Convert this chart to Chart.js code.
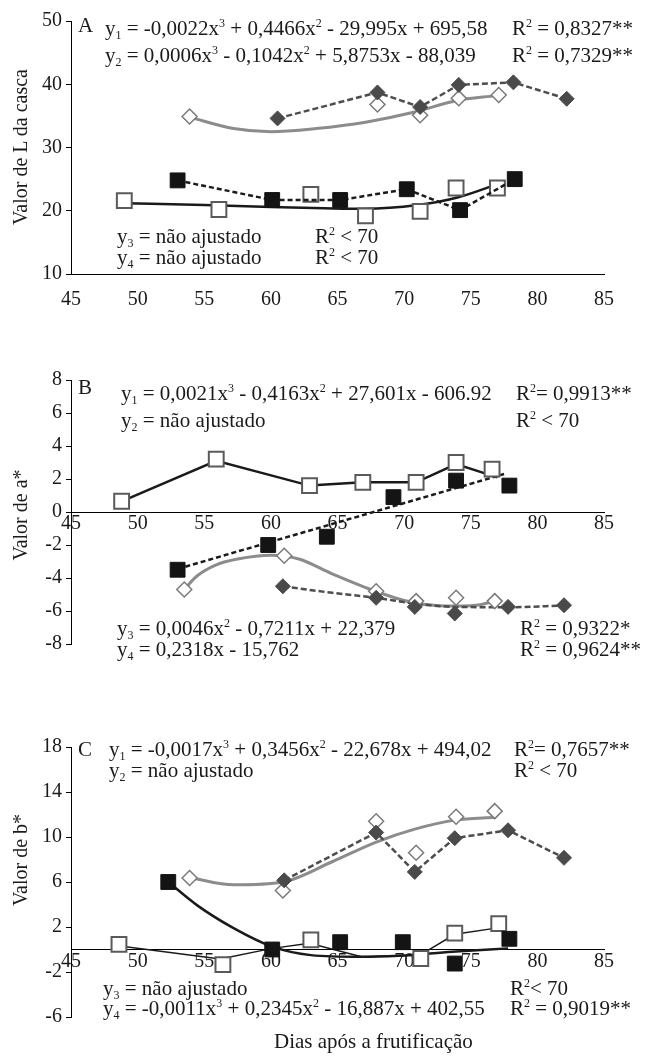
<!DOCTYPE html>
<html>
<head>
<meta charset="utf-8">
<script src="https://cdn.jsdelivr.net/npm/chart.js@4.4.1/dist/chart.umd.min.js"></script>
<style>
  body { margin: 0; background: #fff; }
  #wrap { position: relative; width: 649px; height: 1060px; font-family: "Liberation Serif", serif; color: #1a1a1a; }
  canvas { position: absolute; left: 0; }
  .t { position: absolute; font-size: 21px; line-height: 21px; white-space: nowrap; }
  .t sub, .t sup { font-size: 12px; line-height: 0; }
  .t sub { vertical-align: -4px; }
  .t sup { vertical-align: 8px; }
  .ytitle { position: absolute; font-size: 20px; line-height: 20px; white-space: nowrap; transform: translate(-50%, -50%) rotate(-90deg); }
</style>
</head>
<body>
<div id="wrap">
  <canvas id="chartA" width="649" height="320" style="top:0px"></canvas>
  <canvas id="chartB" width="649" height="340" style="top:320px"></canvas>
  <canvas id="chartC" width="649" height="400" style="top:660px"></canvas>
</div>
<script>
"use strict";

// eixo x comum (dias após a frutificação)
const xMin = 45;
const xMax = 85;
const xStep = 5;

// A - Valor de L da casca
const aOpenDiamondX = [53.9, 68.0, 71.2, 74.1, 77.1];
const aOpenDiamondY = [34.9, 36.8, 35.1, 37.8, 38.3];
const aFullDiamondX = [60.5, 68.0, 71.2, 74.1, 78.2, 82.2];
const aFullDiamondY = [34.6, 38.7, 36.4, 39.9, 40.3, 37.7];
const aOpenSquareX = [49.0, 56.1, 63.0, 67.1, 71.2, 73.9, 77.0];
const aOpenSquareY = [21.6, 20.2, 22.6, 19.2, 19.9, 23.6, 23.6];
const aFullSquareX = [53.0, 60.1, 65.2, 70.2, 74.2, 78.3];
const aFullSquareY = [24.8, 21.7, 21.7, 23.4, 20.1, 25.0];
const aGrayCurveX = [53.9, 57.2, 60.0, 63.4, 67.1, 70.8, 73.9, 76.9];
const aGrayCurveY = [34.8, 33.0, 32.5, 33.0, 34.0, 35.6, 37.4, 38.2];
const aBlackCurveX = [49, 55, 60, 64, 67, 71, 74, 77];
const aBlackCurveY = [21.2, 20.9, 20.6, 20.4, 20.3, 20.9, 22.1, 24.2];

// B - Valor de a*
const bOpenSquareX = [48.8, 55.9, 62.9, 66.9, 70.9, 73.9, 76.6];
const bOpenSquareY = [0.65, 3.2, 1.6, 1.8, 1.8, 3.0, 2.6];
const bOpenLineX = [48.8, 55.9, 62.9, 66.9, 70.9, 73.9, 77.0];
const bOpenLineY = [0.65, 3.1, 1.6, 1.8, 1.8, 2.9, 2.1];
const bFullSquareX = [53.0, 59.8, 64.2, 69.2, 73.9, 77.9];
const bFullSquareY = [-3.5, -2.0, -1.5, 0.9, 1.9, 1.6];
const bFitLineX = [53.0, 77.5];
const bFitLineY = [-3.45, 2.3];
const bOpenDiamondX = [53.5, 61.0, 67.9, 70.9, 73.9, 76.8];
const bOpenDiamondY = [-4.7, -2.65, -4.8, -5.4, -5.2, -5.4];
const bGrayCurveX = [53.5, 54.5, 55.9, 57.5, 60.0, 62.1, 64.6, 67.9, 70.8, 73.9, 75.8, 76.9];
const bGrayCurveY = [-4.68, -3.85, -3.2, -2.85, -2.62, -2.85, -3.75, -4.82, -5.51, -5.7, -5.6, -5.37];
const bFullDiamondX = [60.9, 67.9, 70.8, 73.8, 77.8, 82.0];
const bFullDiamondY = [-4.5, -5.2, -5.75, -6.15, -5.75, -5.65];
const bDarkCurveX = [60.9, 64.6, 67.9, 70.8, 73.9, 77.8, 82.0];
const bDarkCurveY = [-4.5, -4.9, -5.2, -5.55, -5.75, -5.77, -5.67];

// C - Valor de b*
const cOpenDiamondX = [53.9, 60.9, 67.9, 70.9, 73.9, 76.8];
const cOpenDiamondY = [6.35, 5.25, 11.4, 8.6, 11.8, 12.3];
const cGrayCurveX = [53.9, 57.2, 60.9, 64.6, 67.9, 70.8, 73.8, 76.9];
const cGrayCurveY = [6.4, 5.75, 6.0, 7.8, 9.55, 10.7, 11.5, 11.75];
const cFullDiamondX = [61.0, 67.9, 70.8, 73.8, 77.8, 82.0];
const cFullDiamondY = [6.15, 10.4, 6.9, 9.9, 10.6, 8.15];
const cOpenSquareX = [48.6, 56.4, 63.0, 71.25, 73.8, 77.1];
const cOpenSquareY = [0.45, -1.35, 0.85, -0.8, 1.45, 2.3];
const cOpenLineX = [49.1, 56.2, 60.1, 62.9, 66.8, 71.2, 73.8, 76.9];
const cOpenLineY = [0.25, -0.85, 0.1, 0.55, -0.65, -0.5, 1.35, 1.9];
const cFullSquareX = [52.3, 60.1, 65.2, 69.9, 73.8, 77.9];
const cFullSquareY = [6.0, 0.0, 0.65, 0.65, -1.25, 0.95];
const cBlackCurveX = [52.3, 54.5, 57.2, 60.1, 63.0, 66.8, 69.6, 73.6, 77.8];
const cBlackCurveY = [6.0, 3.9, 1.9, 0.25, -0.5, -0.65, -0.55, -0.2, 0.1];

const serif = "Liberation Serif";
const ink = "#1a1a1a";

const marks = {
    openSquare: { pointStyle: "rect", pointRadius: 10.5, pointBorderColor: "#5a5a5a", pointBackgroundColor: "#fff", pointBorderWidth: 2 },
    fullSquare: { pointStyle: "rect", pointRadius: 10.5, pointBorderColor: "#141414", pointBackgroundColor: "#141414", pointBorderWidth: 1 },
    openDiamond: { pointStyle: "rectRot", pointRadius: 7.5, pointBorderColor: "#7a7a7a", pointBackgroundColor: "#fff", pointBorderWidth: 1.5 },
    fullDiamond: { pointStyle: "rectRot", pointRadius: 7.5, pointBorderColor: "#4a4a4a", pointBackgroundColor: "#4a4a4a", pointBorderWidth: 1 }
};

const strokes = {
    gray: { borderColor: "#8c8c8c", borderWidth: 3, borderDash: [] },
    darkDash: { borderColor: "#4d4d4d", borderWidth: 2.5, borderDash: [6, 3] },
    blackDash: { borderColor: ink, borderWidth: 2.5, borderDash: [5, 3] },
    black: { borderColor: ink, borderWidth: 2.5, borderDash: [] },
    thin: { borderColor: ink, borderWidth: 1.5, borderDash: [] }
};

function pts(xs, ys) {
    return xs.map((x, i) => ({ x: x, y: ys[i] }));
}

// points only, or points joined by straight segments
function markers(xs, ys, mark, stroke) {
    return Object.assign({
        data: pts(xs, ys),
        showLine: !!stroke,
        tension: 0
    }, marks[mark], stroke ? strokes[stroke] : {});
}

// smooth fitted curve without markers
function curve(xs, ys, stroke) {
    return Object.assign({
        data: pts(xs, ys),
        showLine: true,
        pointRadius: 0,
        cubicInterpolationMode: "monotone"
    }, strokes[stroke]);
}

// straight segments without markers
function polyline(xs, ys, stroke) {
    return Object.assign({
        data: pts(xs, ys),
        showLine: true,
        pointRadius: 0,
        tension: 0
    }, strokes[stroke]);
}

function buildChart(id, yMin, yMax, yStep, padTop, padBottom, xAtZero, datasets) {
    const tickFont = { family: serif, size: 20 };
    const xScale = {
        type: "linear",
        min: xMin,
        max: xMax,
        position: xAtZero ? { y: 0 } : "bottom",
        ticks: { stepSize: xStep, font: tickFont, color: ink, padding: xAtZero ? 0 : 14, maxRotation: 0 },
        grid: { drawOnChartArea: false, drawTicks: false, color: "#000" },
        border: { color: "#000", width: 1 }
    };
    if (!xAtZero) {
        xScale.afterFit = (scale) => { scale.height = 46; };
    }
    return new Chart(document.getElementById(id), {
        type: "scatter",
        data: { datasets: datasets },
        options: {
            responsive: false,
            animation: false,
            layout: { padding: { top: padTop, right: 45, bottom: padBottom, left: 0 } },
            plugins: { legend: { display: false }, tooltip: { enabled: false } },
            scales: {
                x: xScale,
                y: {
                    min: yMin,
                    max: yMax,
                    ticks: { stepSize: yStep, font: tickFont, color: ink, padding: 4 },
                    grid: { drawOnChartArea: false, drawTicks: true, tickLength: 5, color: "#000" },
                    border: { color: "#000", width: 1 },
                    afterFit: (scale) => { scale.width = 71; }
                }
            }
        }
    });
}

buildChart("chartA", 10, 50, 10, 21, 0, false, [
    markers(aFullSquareX, aFullSquareY, "fullSquare", "blackDash"),
    markers(aOpenSquareX, aOpenSquareY, "openSquare"),
    markers(aFullDiamondX, aFullDiamondY, "fullDiamond", "darkDash"),
    markers(aOpenDiamondX, aOpenDiamondY, "openDiamond"),
    curve(aBlackCurveX, aBlackCurveY, "black"),
    curve(aGrayCurveX, aGrayCurveY, "gray")
]);

buildChart("chartB", -8, 8, 2, 60, 9, true, [
    markers(bFullSquareX, bFullSquareY, "fullSquare"),
    markers(bOpenSquareX, bOpenSquareY, "openSquare"),
    markers(bFullDiamondX, bFullDiamondY, "fullDiamond"),
    markers(bOpenDiamondX, bOpenDiamondY, "openDiamond"),
    polyline(bOpenLineX, bOpenLineY, "black"),
    polyline(bFitLineX, bFitLineY, "blackDash"),
    curve(bDarkCurveX, bDarkCurveY, "darkDash"),
    curve(bGrayCurveX, bGrayCurveY, "gray")
]);

buildChart("chartC", -6, 18, 4, 87, 43, true, [
    markers(cFullSquareX, cFullSquareY, "fullSquare"),
    markers(cOpenSquareX, cOpenSquareY, "openSquare"),
    markers(cFullDiamondX, cFullDiamondY, "fullDiamond", "darkDash"),
    markers(cOpenDiamondX, cOpenDiamondY, "openDiamond"),
    polyline(cOpenLineX, cOpenLineY, "thin"),
    curve(cBlackCurveX, cBlackCurveY, "black"),
    curve(cGrayCurveX, cGrayCurveY, "gray")
]);

// equations and labels: [left, baseline, html]
const notes = [
    [78, 33, "A"],
    [105, 36, "y<sub>1</sub> = -0,0022x<sup>3</sup> + 0,4466x<sup>2</sup> - 29,995x + 695,58"],
    [512, 36, "R<sup>2</sup> = 0,8327**"],
    [105, 63, "y<sub>2</sub> = 0,0006x<sup>3</sup> - 0,1042x<sup>2</sup> + 5,8753x - 88,039"],
    [512, 63, "R<sup>2</sup> = 0,7329**"],
    [117, 244, "y<sub>3</sub> = não ajustado"],
    [315, 244, "R<sup>2</sup> &lt; 70"],
    [117, 265, "y<sub>4</sub> = não ajustado"],
    [315, 265, "R<sup>2</sup> &lt; 70"],

    [78, 395, "B"],
    [121, 401, "y<sub>1</sub> = 0,0021x<sup>3</sup> - 0,4163x<sup>2</sup> + 27,601x - 606.92"],
    [516, 401, "R<sup>2</sup>= 0,9913**"],
    [121, 428, "y<sub>2</sub> = não ajustado"],
    [516, 428, "R<sup>2</sup> &lt; 70"],
    [117, 636, "y<sub>3</sub> = 0,0046x<sup>2</sup> - 0,7211x + 22,379"],
    [520, 636, "R<sup>2</sup> = 0,9322*"],
    [117, 657, "y<sub>4</sub> = 0,2318x - 15,762"],
    [520, 657, "R<sup>2</sup> = 0,9624**"],

    [78, 757, "C"],
    [109, 757, "y<sub>1</sub> = -0,0017x<sup>3</sup> + 0,3456x<sup>2</sup> - 22,678x + 494,02"],
    [514, 757, "R<sup>2</sup>= 0,7657**"],
    [109, 778, "y<sub>2</sub> = não ajustado"],
    [514, 778, "R<sup>2</sup> &lt; 70"],
    [103, 996, "y<sub>3</sub> = não ajustado"],
    [510, 996, "R<sup>2</sup>&lt; 70"],
    [103, 1016, "y<sub>4</sub> = -0,0011x<sup>3</sup> + 0,2345x<sup>2</sup> - 16,887x + 402,55"],
    [510, 1016, "R<sup>2</sup> = 0,9019**"],

    [274, 1049, "Dias após a frutificação"]
];

// y axis titles: [centre x, centre y, text]
const yTitles = [
    [20, 147, "Valor de L da casca"],
    [20, 515, "Valor de a*"],
    [20, 860, "Valor de b*"]
];

const wrap = document.getElementById("wrap");

for (const [x, base, html] of notes) {
    const d = document.createElement("div");
    d.className = "t";
    d.style.left = x + "px";
    d.style.top = (base - 18) + "px";
    d.innerHTML = html;
    wrap.appendChild(d);
}

for (const [cx, cy, text] of yTitles) {
    const d = document.createElement("div");
    d.className = "ytitle";
    d.style.left = cx + "px";
    d.style.top = cy + "px";
    d.textContent = text;
    wrap.appendChild(d);
}
</script>
</body>
</html>
